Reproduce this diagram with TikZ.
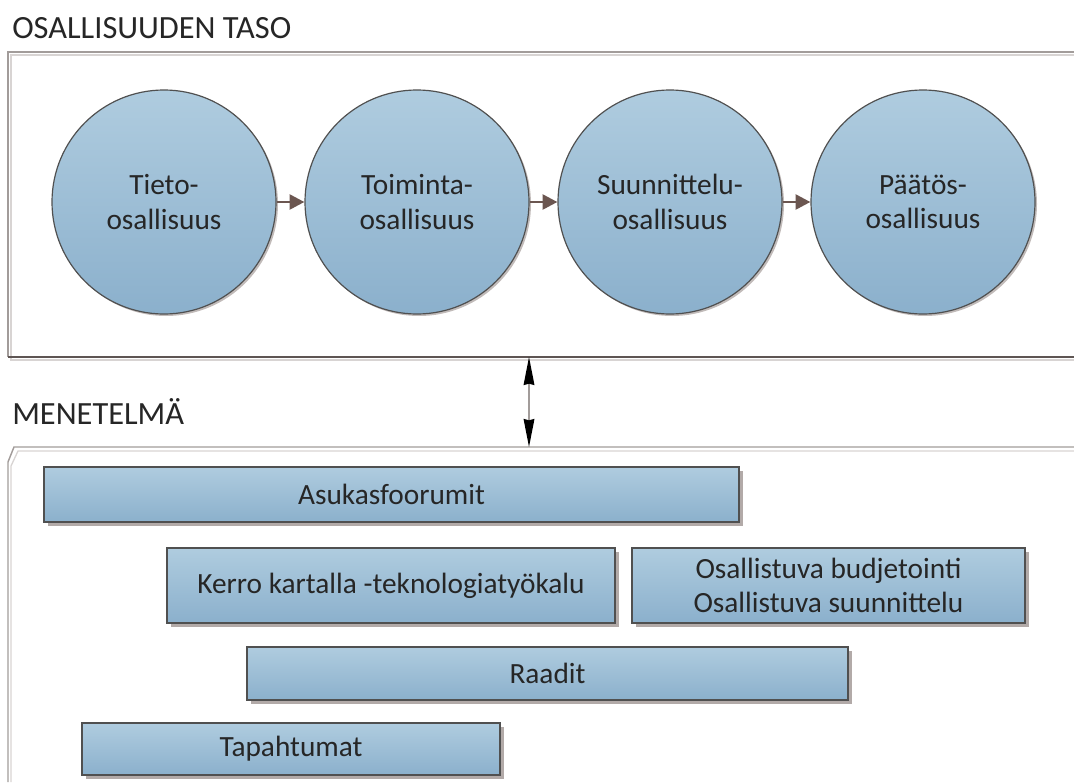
\documentclass[tikz,border=0pt]{standalone}
\usepackage{fontspec}
\setmainfont{Carlito}
\usetikzlibrary{arrows,arrows.meta,shadows}
\definecolor{framegray}{HTML}{A29C9A}
\definecolor{framedark}{HTML}{5E5553}
\definecolor{framelight}{HTML}{D8D4D3}
\definecolor{fillTop}{HTML}{AFCCDF}
\definecolor{fillBot}{HTML}{8BB0CC}
\definecolor{linegray}{HTML}{505050}
\definecolor{arrowbrown}{HTML}{6B5650}
\definecolor{shadowgray}{HTML}{B2AAA8}
\newcommand{\pxu}{0.75pt}
\tikzset{
    stage/.style =  {circle,
                    draw=linegray,
                    line width=0.9pt,
                    top color=fillTop,
                    bottom color=fillBot,
                    text=black!85,
                    align=center,
                    inner sep=0pt,
                    minimum size=224*\pxu,
                    font=\fontsize{22}{26}\selectfont,
                    drop shadow={shadow xshift=1.5pt,
                                 shadow yshift=-1.5pt,
                                 fill=shadowgray,
                                 opacity=0.8}},
    method/.style = {rectangle,
                    draw=linegray,
                    line width=0.8pt,
                    top color=fillTop,
                    bottom color=fillBot,
                    text=black!85,
                    align=center,
                    inner sep=0pt,
                    font=\fontsize{22}{26}\selectfont,
                    drop shadow={shadow xshift=3pt,
                                 shadow yshift=-3pt,
                                 fill=shadowgray,
                                 opacity=1}},
    title/.style =  {anchor=west,
                    inner sep=0pt,
                    text=black!85,
                    font=\fontsize{24.3}{28}\selectfont},
    -,
    flow/.style =   {draw=arrowbrown,
                    line width=2.2pt,
                    -{Triangle[length=11pt,width=11pt]}},
    link/.style =   {draw=framegray,
                    line width=1.3pt,
                    {Stealth[length=21pt,width=8pt,inset=1pt,black]}-{Stealth[length=21pt,width=8pt,inset=1pt,black]}},
    outer/.style =  {draw=framegray, line width=1.1pt},
    lower/.style =  {draw=framedark, line width=1.1pt},
    inner/.style =  {draw=framelight, line width=1pt},
    node distance=253*\pxu}

\begin{document}
\begin{tikzpicture}[x=0.75pt,y=-0.75pt]
    \useasboundingbox (0,0) rectangle (1074,782);
    % frames
    \draw[inner] (1074,55) -- (11,55) -- (11,360) -- (1074,360);
    \draw[outer] (1074,52) -- (8,52) -- (8,357);
    \draw[lower] (8,357) -- (1074,357);
    \draw[inner] (1074,451) -- (18,451) -- (11,466) -- (11,782);
    \draw[outer] (1074,447) -- (14,447) -- (8,462) -- (8,782);
    \node[title]    (T) at (12,28)  {OSALLISUUDEN TASO};
    \node[title]    (M) at (12,412) {MENETELMÄ};
    % levels
    \node[stage]    (A) at (164,202)    {Tieto-\\osallisuus};
    \node[stage]    (B) [right of=A]    {Toiminta-\\osallisuus};
    \node[stage]    (C) [right of=B]    {Suunnittelu-\\osallisuus};
    \node[stage]    (D) [right of=C]    {Päätös-\\osallisuus};
    \draw[flow] (A) -- (B);
    \draw[flow] (B) -- (C);
    \draw[flow] (C) -- (D);
    \coordinate (U) at (529,357);
    \coordinate (L) at (529,447);
    \draw[link] (U) -- (L);
    % methods
    \node[method, minimum width=695*\pxu, minimum height=55*\pxu] (E) at (391.5,494.5) {Asukasfoorumit};
    \node[method, minimum width=448*\pxu, minimum height=75*\pxu] (F) at (391,585.5)   {Kerro kartalla -teknologiatyökalu};
    \node[method, minimum width=393*\pxu, minimum height=75*\pxu] (G) at (828.5,585.5) {Osallistuva budjetointi\\Osallistuva suunnittelu};
    \node[method, minimum width=601*\pxu, minimum height=53*\pxu] (H) at (547.5,673.5) {Raadit};
    \node[method, minimum width=418*\pxu, minimum height=52*\pxu] (I) at (291,749)     {Tapahtumat};
\end{tikzpicture}
\end{document}
